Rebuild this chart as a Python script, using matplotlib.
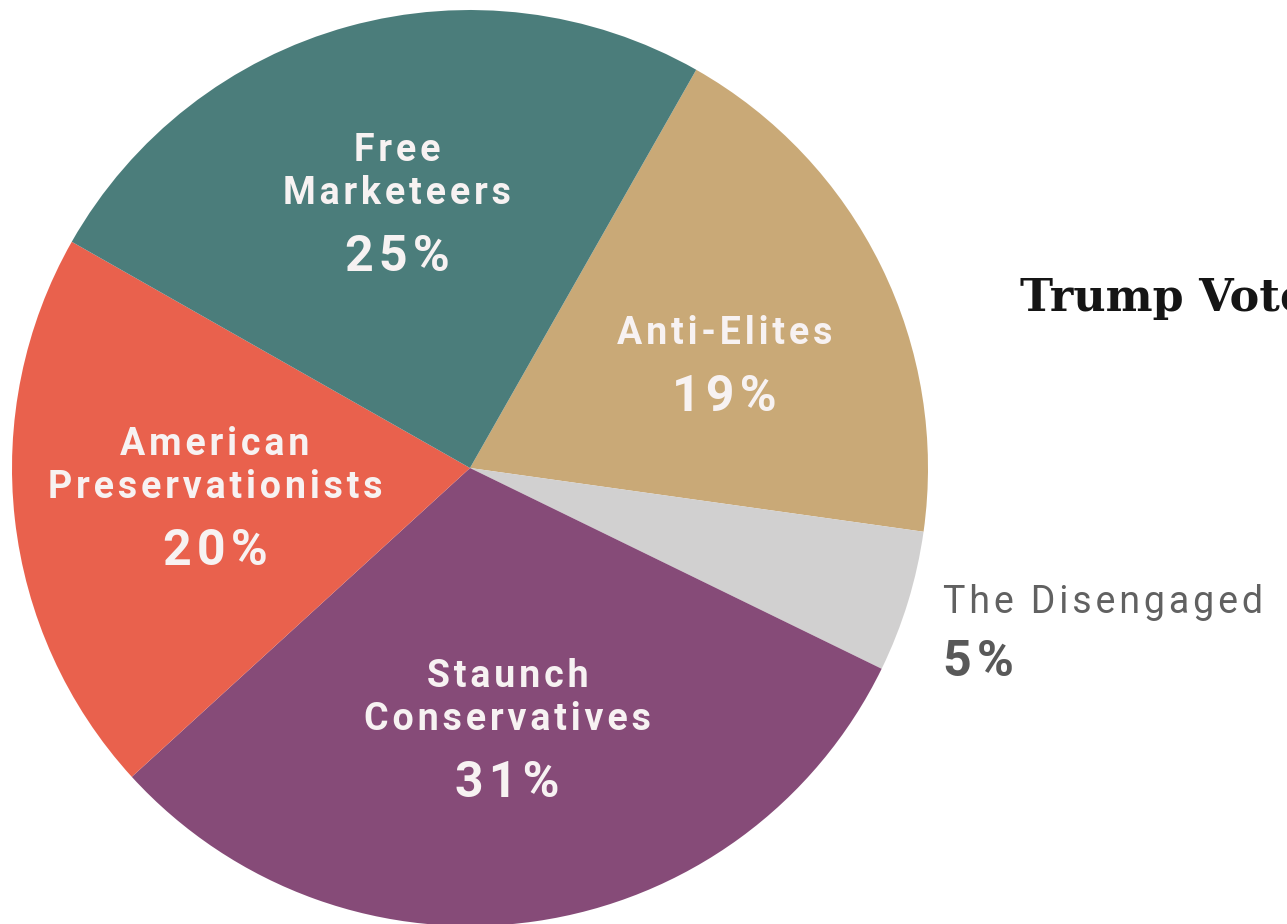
import matplotlib
matplotlib.use("Agg")
import matplotlib.pyplot as plt
import numpy as np

names = ["Anti-Elites", "The Disengaged", "Staunch\nConservatives",
         "American\nPreservationists", "Free\nMarketeers"]
shares = [19, 5, 31, 20, 25]
colors = ["#C9A977", "#D1D0D0", "#864B78", "#E9614D", "#4B7D7B"]
label_dist = [0.62, 1.08, 0.575, 0.56, 0.60]
title = "Trump Voters"

FAM = ["Roboto", "DejaVu Sans"]


def spaced(s, sp="\u200a"):
    # fake letter spacing with hair spaces
    return "\n".join(sp.join(line) for line in s.split("\n"))


fig = plt.figure(figsize=(12.87, 9.24), dpi=100)
W, H = 1287, 924
cx, cy, r = 470, 468, 458
ax = fig.add_axes([(cx - r) / W, (H - cy - r) / H, 2 * r / W, 2 * r / H])

wedges, _ = ax.pie(shares, colors=colors, startangle=60.4, counterclock=False,
                   radius=1, wedgeprops=dict(linewidth=0))
ax.set_xlim(-1, 1)
ax.set_ylim(-1, 1)
ax.set_aspect("equal")
ax.axis("off")

px = 1 / r  # one pixel in data units
for w, name, pct, d in zip(wedges, names, shares, label_dist):
    mid = np.deg2rad((w.theta1 + w.theta2) / 2)
    x, y = d * np.cos(mid), d * np.sin(mid)
    if d > 1:
        ax.text(x, y - 8 * px, spaced(name), ha="left", va="bottom",
                color="#616161", fontsize=27, family=FAM, fontweight="normal")
        ax.text(x, y - 63 * px, spaced(f"{pct}%"), ha="left",
                va="baseline", color="#595959", fontsize=36, family=FAM,
                fontweight="bold")
    else:
        ax.text(x, y - 9 * px, spaced(name), ha="center", va="bottom",
                color="#F7F2F2", fontsize=27, family=FAM, fontweight="bold",
                linespacing=1.2)
        ax.text(x, y - 68 * px, spaced(f"{pct}%"), ha="center",
                va="baseline", color="#F7F2F2", fontsize=36, family=FAM,
                fontweight="bold")

fig.text(1020 / W, 1 - 298 / H, title, ha="left", va="center",
         fontsize=32, family="DejaVu Serif", fontweight="bold", color="#151515")

fig.savefig("out.png", dpi=100, facecolor="white")
